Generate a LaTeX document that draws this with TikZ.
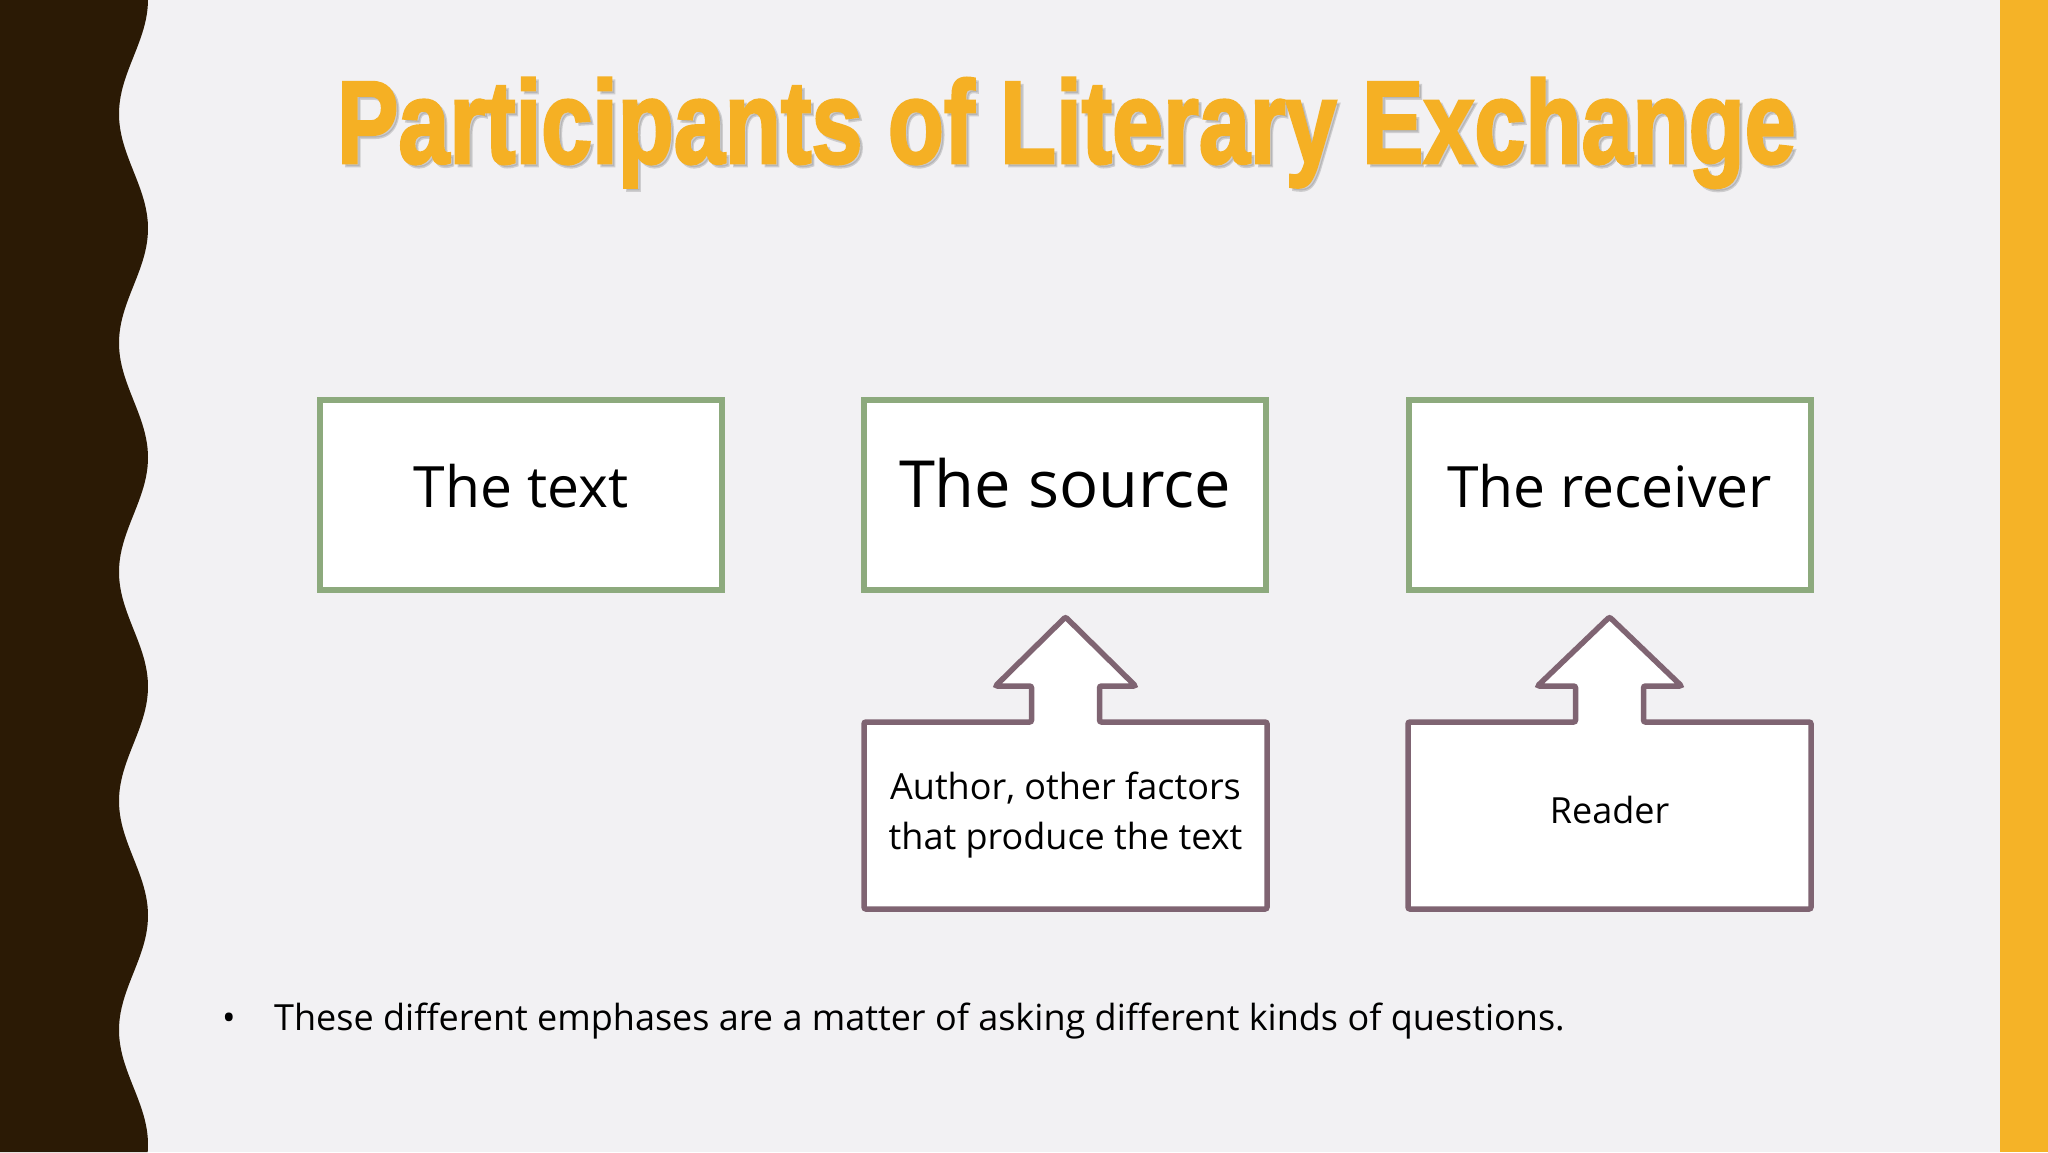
\documentclass[tikz,border=0pt]{standalone}
\usepackage{fontspec}
\setmainfont{Open Sans}
\newfontfamily\titlefont{Liberation Sans Bold}[FakeBold=2.5]
\usetikzlibrary{calc,backgrounds}

\definecolor{pagebg}{HTML}{F2F1F3}
\definecolor{barbrown}{HTML}{2B1A05}
\definecolor{baryellow}{HTML}{F5B327}
\definecolor{titleyellow}{HTML}{F5B024}
\definecolor{sagegreen}{HTML}{8DAA7D}
\definecolor{mauve}{HTML}{7F6472}

\newcommand\titletext{\resizebox{1458pt}{85pt}{\titlefont Participants of Literary Exchange}}

\tikzset{
  topbox/.style={draw=sagegreen, line width=6pt, fill=white,
    minimum width=402pt, minimum height=190pt, inner sep=0pt,
    text height=36pt, text depth=12pt, font=\fontsize{57}{68}\selectfont},
  lowbox/.style={minimum width=403pt, minimum height=187pt, inner sep=0pt,
    outer sep=0pt, align=center, font=\fontsize{36}{50}\selectfont},
  callout/.style={draw=mauve, line width=5.5pt, fill=white, rounded corners=2pt},
}

\begin{document}
\begin{tikzpicture}[x=1pt, y=-1pt]
  \useasboundingbox (0,0) rectangle (2048,1152);

  % slide title with its soft shadow
  \node[anchor=base west, inner sep=0pt, text=black!45, opacity=0.35] at (340,166) {\titletext};
  \node (title) [anchor=base west, inner sep=0pt, text=titleyellow] at (337,163) {\titletext};

  % the three participants
  \node[topbox] (text) at (521,495) {The text};
  \node[topbox, font=\fontsize{65}{78}\selectfont] (source) at (1065,495) {The source};
  \node[topbox] (receiver) at (1609.5,495) {The receiver};

  % what stands behind source and receiver
  \node[lowbox] (srcbody) at (1065.5,815.5) {Author, other factors\\that produce the text};
  \node[lowbox, text depth=12pt] (recbody) at (1609.5,815.5) {Reader};

  % bullet line
  \node (note) [anchor=base west, inner sep=0pt, font=\fontsize{36}{42}\selectfont] at (222,1030)
    {\makebox[52pt][l]{\textbullet}These different emphases are a matter of asking different kinds of questions.};

  \begin{scope}[on background layer]
    \fill[pagebg] (0,0) rectangle (2048,1152);
    % wavy dark band on the left
    \fill[barbrown] (0,0) -- plot[domain=0:1152, samples=240, variable=\t]
      ({133.5-14.5*cos(1.572*(\t-114))}, \t) -- (0,1152) -- cycle;
    % yellow strip on the right
    \fill[baryellow] (2000,0) rectangle (2048,1152);

    % up-arrow callouts round the lower boxes
    \foreach \b/\w in {srcbody/70, recbody/72} {
      \draw[callout] (\b.north west) -- ($(\b.north)+(-34,0)$) -- ($(\b.north)+(-34,-36)$)
        -- ($(\b.north)+(-\w,-36)$) -- ($(\b.north)+(0,-105)$) -- ($(\b.north)+(\w,-36)$)
        -- ($(\b.north)+(34,-36)$) -- ($(\b.north)+(34,0)$) -- (\b.north east)
        -- (\b.south east) -- (\b.south west) -- cycle;
    }
  \end{scope}
\end{tikzpicture}
\end{document}
